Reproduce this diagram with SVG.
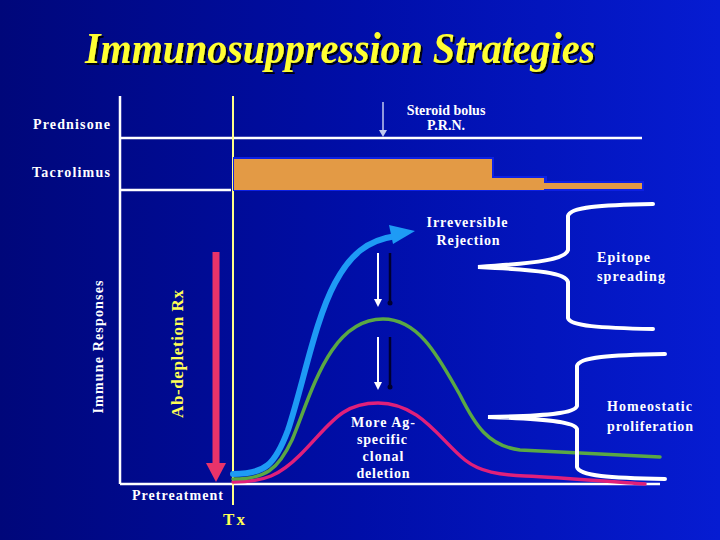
<svg xmlns="http://www.w3.org/2000/svg" width="720" height="540" viewBox="0 0 720 540">
<defs>
<linearGradient id="bg" x1="0" y1="0" x2="1" y2="0">
<stop offset="0" stop-color="#00077a"/>
<stop offset="0.5" stop-color="#000ea8"/>
<stop offset="1" stop-color="#061cd2"/>
</linearGradient>
<filter id="shadow" x="-5%" y="-20%" width="110%" height="150%">
<feDropShadow dx="2" dy="2" stdDeviation="0.6" flood-color="#000000" flood-opacity="0.9"/>
</filter>
</defs>
<style>
.lbl{font-family:"Liberation Serif","Times New Roman",serif;font-weight:bold;fill:#ffffff;font-size:14px}
.ylw{font-family:"Liberation Serif","Times New Roman",serif;font-weight:bold;fill:#ffff55}
.axis{stroke:#ffffff;stroke-width:2.5;fill:none}
.brace{stroke:#ffffff;stroke-width:4;fill:none;stroke-linecap:round}
.curve{fill:none;stroke-linecap:round}
.bar{fill:#e39a45}
.glow{fill:#0c20e4}
</style>
<rect width="720" height="540" fill="url(#bg)"/>

<g id="title">
<text x="85" y="63" font-family="Liberation Serif, serif" font-weight="bold" font-style="italic" font-size="44" fill="#ffff33" textLength="510" lengthAdjust="spacingAndGlyphs" filter="url(#shadow)">Immunosuppression Strategies</text>
</g>

<g id="axes">
<line class="axis" x1="120" y1="96" x2="120" y2="484"/>
<line class="axis" x1="120" y1="138" x2="642" y2="138"/>
<line class="axis" x1="120" y1="190" x2="231" y2="190"/>
<line class="axis" x1="120" y1="484" x2="660" y2="484"/>
<line x1="233" y1="96" x2="233" y2="505" stroke="#ffff88" stroke-width="2"/>
</g>

<g id="tacrolimus-bar">
<rect class="glow" x="233" y="157" width="261" height="34"/>
<rect class="glow" x="490" y="176" width="57" height="15"/>
<rect class="glow" x="543" y="181" width="101" height="10"/>
<rect class="bar" x="234" y="159" width="258" height="31"/>
<rect class="bar" x="492" y="178" width="52" height="12"/>
<rect class="bar" x="544" y="183" width="98" height="6"/>
</g>

<g id="labels-left">
<text class="lbl" x="33" y="129" textLength="77">Prednisone</text>
<text class="lbl" x="32" y="177" textLength="78">Tacrolimus</text>
<text class="lbl" transform="translate(103,347) rotate(-90)" text-anchor="middle" font-size="15" font-weight="normal" textLength="133">Immune Responses</text>
<text class="ylw" transform="translate(183,354) rotate(-90)" text-anchor="middle" font-size="17" textLength="128">Ab-depletion Rx</text>
<text class="lbl" x="132" y="500" textLength="91" font-size="13">Pretreatment</text>
<text class="ylw" x="223" y="525" font-size="17" textLength="22">Tx</text>
</g>

<g id="steroid">
<line x1="383" y1="102" x2="383" y2="130" stroke="#c0c8ee" stroke-width="1.5"/>
<path d="M379,130 L387,130 L383,137 Z" fill="#c0c8ee"/>
<text class="lbl" x="446" y="115" text-anchor="middle" font-size="13">Steroid bolus</text>
<text class="lbl" x="446" y="130" text-anchor="middle" font-size="13">P.R.N.</text>
</g>

<g id="depletion-arrow">
<line x1="216" y1="252" x2="216" y2="465" stroke="#e8336a" stroke-width="7"/>
<path d="M206,463 L226,463 L216,482 Z" fill="#e8336a"/>
</g>

<g id="curves">
<path class="curve" d="M233,482 C265,482 280,475 300,455 C330,425 340,403 378,403 C420,403 440,440 465,460 C480,472 500,475 525,476 C570,478 610,482 645,484" stroke="#e0207a" stroke-width="3.5"/>
<path class="curve" d="M233,479 C265,479 278,470 292,440 C312,392 330,319 383,319 C420,319 440,360 460,395 C475,425 488,446 520,450 L660,457" stroke="#5aa844" stroke-width="3.5"/>
<path class="curve" d="M233,474 C265,474 275,465 288,430 C303,385 315,320 335,283 C350,255 367,240 396,236" stroke="#1e9bf5" stroke-width="6"/>
<path d="M389,225 L415,231 L393,244 Z" fill="#1e9bf5"/>
</g>

<g id="down-arrows">
<line x1="390" y1="253" x2="390" y2="302" stroke="#000030" stroke-width="2.5"/>
<circle cx="390" cy="303" r="2.5" fill="#000030"/>
<line x1="378" y1="253" x2="378" y2="300" stroke="#ffffff" stroke-width="2"/>
<path d="M374,299 L382,299 L378,307 Z" fill="#ffffff"/>
<line x1="390" y1="337" x2="390" y2="386" stroke="#000030" stroke-width="2.5"/>
<circle cx="390" cy="387" r="2.5" fill="#000030"/>
<line x1="378" y1="337" x2="378" y2="383" stroke="#ffffff" stroke-width="2"/>
<path d="M374,382 L382,382 L378,390 Z" fill="#ffffff"/>
</g>

<g id="brace-epitope">
<path class="brace" d="M653,204 C600,205 570,207 568,216 L568,250 C566,259 540,263 478,267 C540,270 566,273 568,282 L568,318 C570,326 600,328 653,329"/>
<text class="lbl" x="597" y="262" textLength="53">Epitope</text>
<text class="lbl" x="597" y="281" textLength="68">spreading</text>
</g>

<g id="brace-homeostatic">
<path class="brace" d="M665,354 C610,355 579,357 577,366 L577,406 C575,413 550,416 488,417 C550,419 575,422 577,429 L577,467 C579,476 610,478 665,479"/>
<text class="lbl" x="607" y="411" textLength="85">Homeostatic</text>
<text class="lbl" x="607" y="431" textLength="86">proliferation</text>
</g>

<g id="center-labels">
<text class="lbl" x="467" y="227" text-anchor="middle" textLength="81">Irreversible</text>
<text class="lbl" x="468" y="245" text-anchor="middle" textLength="63">Rejection</text>
<text class="lbl" x="383" y="427" text-anchor="middle" textLength="64">More Ag-</text>
<text class="lbl" x="382" y="444" text-anchor="middle" textLength="50">specific</text>
<text class="lbl" x="383" y="461" text-anchor="middle" textLength="41">clonal</text>
<text class="lbl" x="383" y="478" text-anchor="middle" textLength="53">deletion</text>
</g>
</svg>
